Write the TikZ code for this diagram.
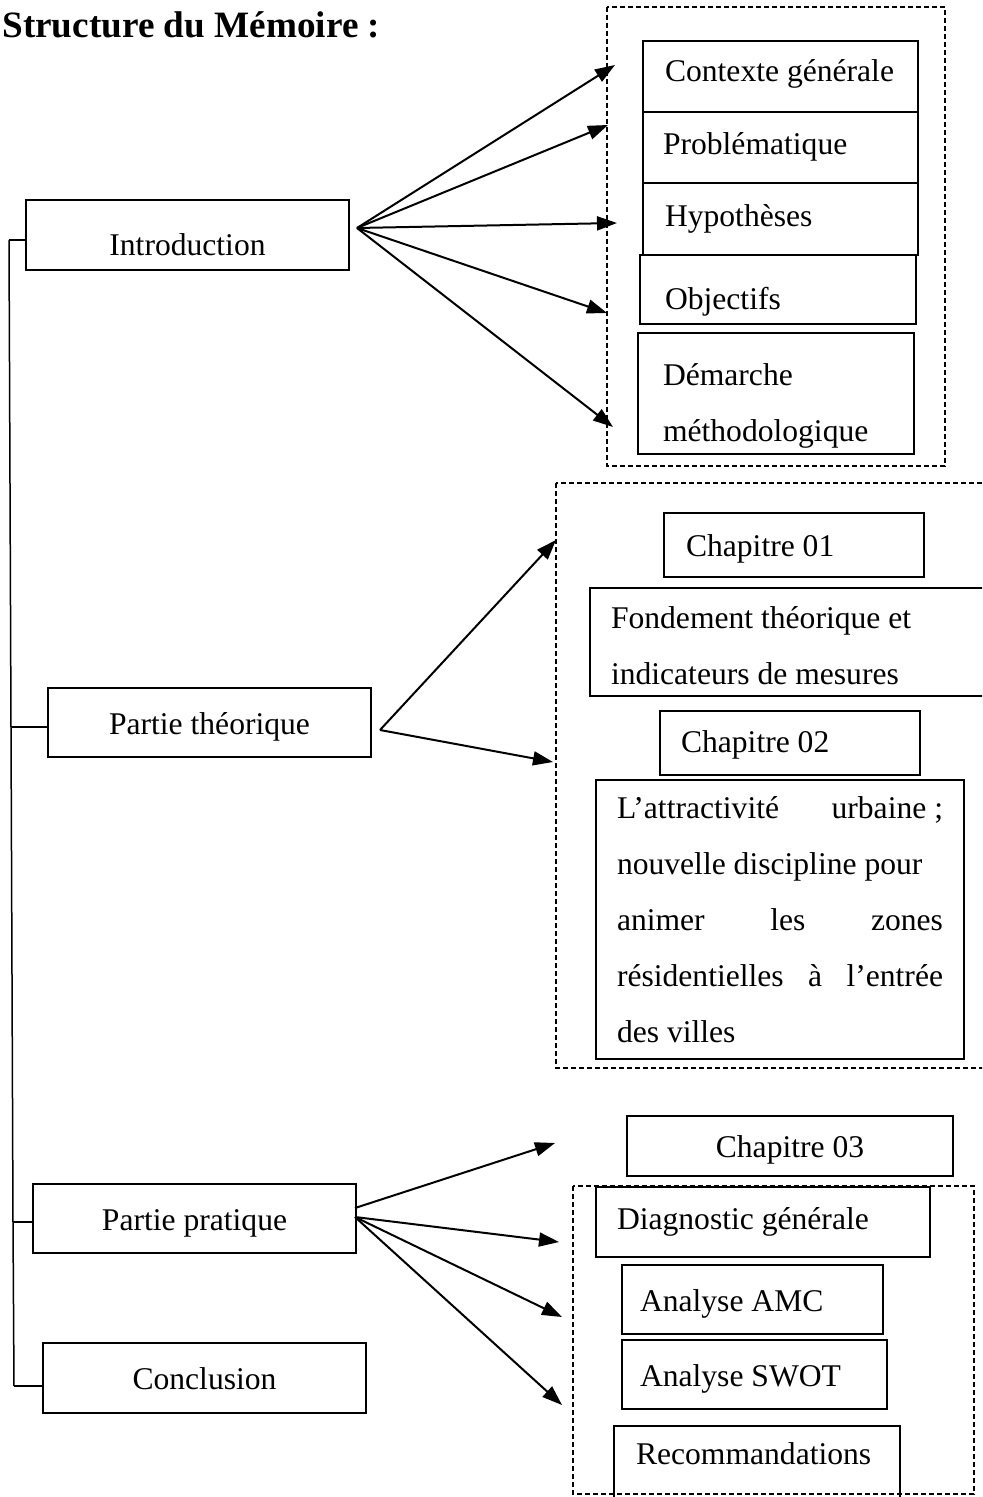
\documentclass[tikz,border=0pt]{standalone}
\usepackage{fontspec}
\setmainfont{Liberation Serif}
\usetikzlibrary{arrows.meta}
\newcommand{\corps}{\fontsize{15.8}{28}\selectfont}
\newcommand{\ecart}{\hskip 0pt plus 1filll\relax}

\begin{document}
\begin{tikzpicture}[x=0.5pt, y=-0.5pt,
    bloc/.style={draw, line width=0.75pt, inner ysep=0pt, align=flush left, font=\corps},
    partie/.style={bloc, align=center, minimum width=161.5pt},
    ligne/.style={text height=0.66em+5pt+#1, text depth=0pt},
    ligne/.default=0pt,
    cadre/.style={line width=1.2pt, dash pattern=on 2.5pt off 1.5pt},
    fleche/.style={-{Triangle[length=10pt, width=7pt]}, line width=1pt},
    trait/.style={line width=0.75pt}]
  \useasboundingbox (0,0) rectangle (982,1497);
  \clip (0,0) rectangle (982,1497);

  \node[anchor=base west, inner sep=0pt, font=\bfseries\fontsize{18.6}{22}\selectfont] (titre) at (2,38) {Structure du Mémoire~:};

  % les quatre parties
  \node[partie, minimum height=35pt, ligne=9pt] (intro) at (187.5,235) {Introduction};
  \node[partie, minimum height=34.5pt, ligne] (theo) at (209.5,722.5) {Partie théorique};
  \node[partie, minimum height=34.5pt, ligne] (prat) at (194.5,1218.5) {Partie pratique};
  \node[partie, minimum height=35pt, ligne] (concl) at (204.5,1378) {Conclusion};

  % accolade de gauche
  \coordinate (s1) at (9,240);
  \coordinate (s2) at (11,727);
  \coordinate (s3) at (13,1222);
  \coordinate (s4) at (14,1386);
  \draw[trait] (s1) -- (s2) -- (s3) -- (s4);
  \draw[trait] (s1) -- (s1 -| intro.west);
  \draw[trait] (s2) -- (s2 -| theo.west);
  \draw[trait] (s3) -- (s3 -| prat.west);
  \draw[trait] (s4) -- (s4 -| concl.west);

  % introduction
  \draw[cadre] (607,7) rectangle (945,466);
  \node[bloc, minimum height=35.5pt, inner xsep=11pt, text width=115.5pt, ligne=-7pt] (ctx) at (780.5,76.5) {Contexte générale};
  \node[bloc, minimum height=35.5pt, inner xsep=10pt, text width=117.5pt, ligne=-5pt] (prob) at (780.5,147.5) {Problématique};
  \node[bloc, minimum height=36pt, inner xsep=11pt, text width=115.5pt, ligne=-4pt] (hyp) at (780.5,219) {Hypothèses};
  \node[bloc, minimum height=34.5pt, inner xsep=12.5pt, text width=113pt, ligne=8pt] (obj) at (778,289.5) {Objectifs};
  \node[bloc, minimum height=60.5pt, inner xsep=12.5pt, text width=113pt, text depth=18.5pt] (dem) at (776,393.5) {Démarche\\méthodologique};

  \coordinate (io) at (357,228);
  \foreach \n/\x/\y in {1/615/65, 2/608/125, 3/617/223, 4/607/313, 5/613/427} {
    \coordinate (ci\n) at (\x,\y);
    \draw[fleche] (io) -- (ci\n);
  }

  % partie theorique
  \draw[cadre] (556,483) rectangle (1000,1068);
  \node[bloc, minimum height=32pt, inner xsep=11pt, text width=108pt, ligne] (ch1) at (794,545) {Chapitre 01};
  \node[bloc, minimum height=54pt, inner xsep=10.5pt, text width=184pt, text depth=24pt] (fond) at (795,642) {Fondement théorique et\\indicateurs de mesures};
  \node[bloc, minimum height=32pt, inner xsep=10.5pt, text width=109pt, ligne=-2pt] (ch2) at (790,743) {Chapitre 02};
  \node[bloc, minimum height=139.5pt, inner xsep=10.5pt, text width=163pt] (attr) at (780,919.5)
    {L’attractivité \ecart urbaine~;\\nouvelle discipline pour\\animer \ecart les \ecart zones\\résidentielles \ecart à \ecart l’entrée\\des villes};

  \coordinate (to) at (380,730);
  \foreach \n/\x/\y in {1/556/540, 2/553/762} {
    \coordinate (ct\n) at (\x,\y);
    \draw[fleche] (to) -- (ct\n);
  }

  % partie pratique
  \node[partie, minimum width=163pt, minimum height=30pt, ligne] (ch3) at (790,1146) {Chapitre 03};
  \draw[cadre] (573,1186) rectangle (974,1494);
  \node[bloc, minimum height=35pt, inner xsep=10.5pt, text width=146pt, ligne=-4pt] (diag) at (763,1222) {Diagnostic générale};
  \node[bloc, minimum height=34.5pt, inner xsep=9pt, text width=112.5pt, ligne] (amc) at (752.5,1299.5) {Analyse AMC};
  \node[bloc, minimum height=34.5pt, inner xsep=9pt, text width=114.5pt, ligne] (swot) at (754.5,1374.5) {Analyse SWOT};
  \node[bloc, minimum height=36pt, inner xsep=11pt, text width=121pt, ligne=-9pt] (reco) at (757,1462) {Recommandations};

  \coordinate (po) at (355,1208);
  \coordinate (pb) at (355,1217);
  \coordinate (cp1) at (555,1143);
  \draw[fleche] (po) -- (cp1);
  \foreach \n/\x/\y in {2/559/1242, 3/562/1317, 4/562/1405} {
    \coordinate (cp\n) at (\x,\y);
    \draw[fleche] (pb) -- (cp\n);
  }
\end{tikzpicture}
\end{document}
